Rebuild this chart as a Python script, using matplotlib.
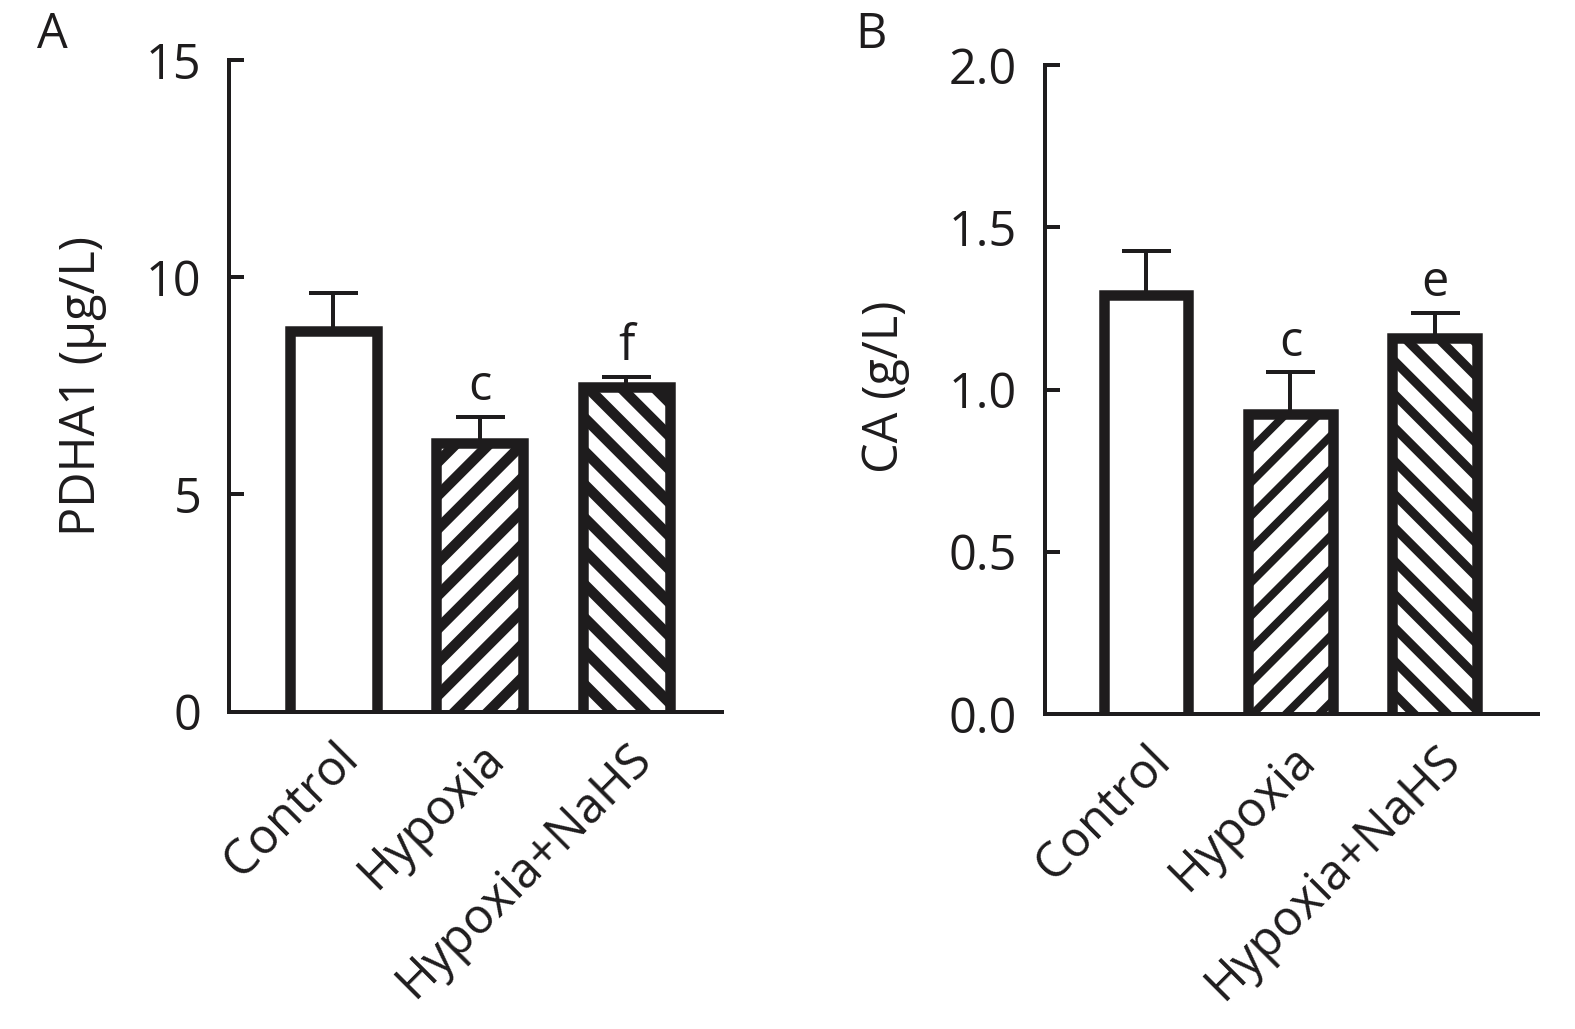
import matplotlib
matplotlib.use("Agg")
import matplotlib.pyplot as plt
import matplotlib.transforms as mtransforms
import numpy as np

plt.rcParams['font.family'] = ['Open Sans', 'DejaVu Sans']

categories = ["Control", "Hypoxia", "Hypoxia+NaHS"]
pdha1 = [8.77, 6.18, 7.47]
pdha1_err = [0.86, 0.61, 0.24]
pdha1_sig = ["", "c", "f"]
ca = [1.292, 0.925, 1.159]
ca_err = [0.135, 0.128, 0.077]
ca_sig = ["", "c", "e"]
hatches = ["", "//", "\\\\"]

INK = "#1e1c1d"
DPI = 200
FS = 17.5
fig = plt.figure(figsize=(1575 / DPI, 1029 / DPI), dpi=DPI)

def px2pt(p):
    return p * 72.0 / DPI

def panel(rect, vals, errs, sigs, ylim, yticks, yticklabels, ylabel, xlim, width, hatch_lw, label_xy):
    ax = fig.add_axes(rect)
    x = np.arange(len(vals))
    bars = ax.bar(x, vals, width=width, color="white", edgecolor=INK, linewidth=0, zorder=2)
    for b, h, hl in zip(bars, hatches, hatch_lw):
        if h:
            b.set_hatch(h)
            try:
                b.set_hatch_linewidth(hl)
            except Exception:
                plt.rcParams['hatch.linewidth'] = hl
    for xi, v in zip(x, vals):
        ax.plot([xi - width / 2, xi - width / 2, xi + width / 2, xi + width / 2],
                [0, v, v, 0], color=INK, lw=px2pt(10.5),
                solid_joinstyle="miter", solid_capstyle="butt", zorder=3, clip_on=False)
    ax.errorbar(x, vals, yerr=[np.zeros(len(vals)), errs], fmt="none", ecolor=INK,
                elinewidth=px2pt(4), capsize=px2pt(24.5), capthick=px2pt(4), zorder=1)
    for xi, v, e, s in zip(x, vals, errs, sigs):
        if s:
            ax.annotate(s, (xi, v + e), xytext=(0, 6), textcoords="offset points",
                        ha="center", va="baseline", fontsize=FS, color=INK)
    ax.set_xlim(*xlim)
    ax.set_ylim(*ylim)
    ax.set_yticks(yticks)
    ax.set_yticklabels(yticklabels)
    ax.set_xticks(x)
    ax.set_xticklabels(categories, rotation=45, ha="right", va="top",
                       rotation_mode="anchor", fontsize=FS, color=INK)
    off = mtransforms.ScaledTranslation(-12 / DPI, -9 / DPI, fig.dpi_scale_trans)
    for lab in ax.get_xticklabels():
        lab.set_transform(lab.get_transform() + off)
    ax.tick_params(axis="x", length=0, pad=8)
    ax.tick_params(axis="y", direction="in", length=px2pt(15), width=px2pt(4),
                   labelsize=FS, pad=10, colors=INK)
    for sp in ["top", "right"]:
        ax.spines[sp].set_visible(False)
    for sp in ["left", "bottom"]:
        ax.spines[sp].set_linewidth(px2pt(4))
        ax.spines[sp].set_color(INK)
        ax.spines[sp].set_zorder(4)
    ax.set_ylabel(ylabel, fontsize=FS, color=INK)
    ax.yaxis.set_label_coords(*label_xy)
    ax.patch.set_alpha(0)
    return ax

W, H = 1575.0, 1029.0
axA = panel([229 / W, (H - 711.5) / H, (722 - 229) / W, (711.5 - 60.3) / H],
            pdha1, pdha1_err, pdha1_sig, (0, 15), [0, 5, 10, 15], ["0", "5", "10", "15"],
            "PDHA1 (μg/L)", (-0.714, 2.656), 0.595, [3.8, 3.8, 3.8], (-0.248, 0.5))
axB = panel([1045 / W, (H - 714) / H, (1537.7 - 1045) / W, (714 - 65) / H],
            ca, ca_err, ca_sig, (0, 2.0), [0, 0.5, 1.0, 1.5, 2.0], ["0.0", "0.5", "1.0", "1.5", "2.0"],
            "CA (g/L)", (-0.699, 2.711), 0.588, [2.9, 2.9, 3.3], (-0.275, 0.5046))

fig.text(37 / W, 1 - 11 / H, "A", fontsize=FS, va="top", ha="left", color=INK)
fig.text(855 / W, 1 - 10 / H, "B", fontsize=FS, va="top", ha="left", color=INK)

fig.savefig("out.png", dpi=DPI)
